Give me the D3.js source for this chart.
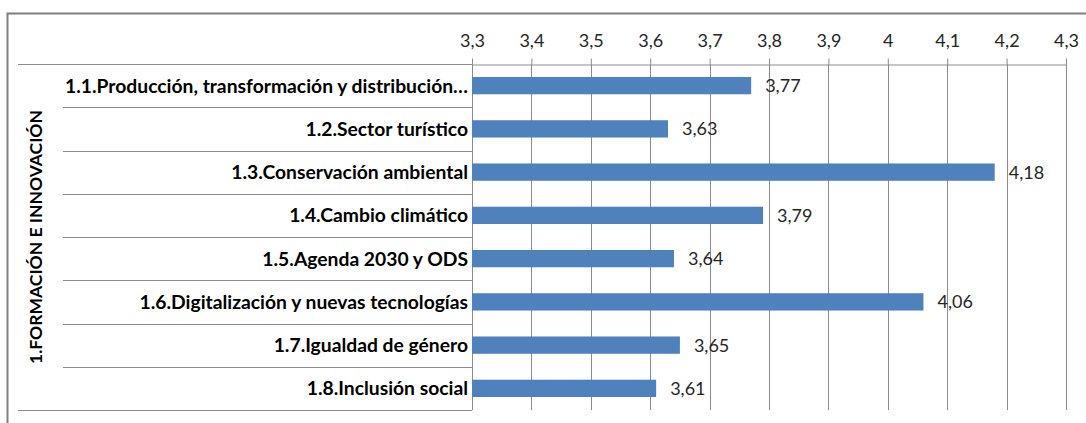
<!DOCTYPE html>
<html>
<head>
<meta charset="utf-8">
<script src="https://cdn.jsdelivr.net/npm/d3@7"></script>
<style>
    body { margin: 0; background: #fff; }
    svg { display: block; }
    .axis text { font-family: Lato, "Open Sans", sans-serif; font-size: 18px; fill: #262626; }
    .cat-label { font-family: Lato, "Open Sans", sans-serif; font-size: 19.3px; font-weight: bold; fill: #000; }
    .value-label { font-family: Lato, "Open Sans", sans-serif; font-size: 18px; fill: #262626; }
    .group-label { font-family: Lato, "Open Sans", sans-serif; font-size: 17.5px; font-weight: bold; fill: #000; }
</style>
</head>
<body>
<div id="chart"></div>
<script>
// Data
const groupName = '1.FORMACIÓN E INNOVACIÓN';
const categories = [
    '1.1.Producción, transformación y distribución…',
    '1.2.Sector turístico',
    '1.3.Conservación ambiental',
    '1.4.Cambio climático',
    '1.5.Agenda 2030 y ODS',
    '1.6.Digitalización y nuevas tecnologías',
    '1.7.Igualdad de género',
    '1.8.Inclusión social'
];
const values = [3.77, 3.63, 4.18, 3.79, 3.64, 4.06, 3.65, 3.61];
const valueLabels = ['3,77', '3,63', '4,18', '3,79', '3,64', '4,06', '3,65', '3,61'];
const tickValues = [3.3, 3.4, 3.5, 3.6, 3.7, 3.8, 3.9, 4.0, 4.1, 4.2, 4.3];
const tickLabels = ['3,3', '3,4', '3,5', '3,6', '3,7', '3,8', '3,9', '4', '4,1', '4,2', '4,3'];

class BarChart {

    constructor(_config) {
        this.config = {
            parentElement: _config.parentElement,
            containerWidth: _config.containerWidth || 1086,
            containerHeight: _config.containerHeight || 423,
            margin: _config.margin || {top: 64, right: 20, bottom: 13, left: 472}
        };
        this.initVis();
    }

    initVis() {
        let vis = this;

        vis.width = vis.config.containerWidth - vis.config.margin.left - vis.config.margin.right;
        vis.height = vis.config.containerHeight - vis.config.margin.top - vis.config.margin.bottom;

        vis.xScale = d3.scaleLinear()
            .domain([3.3, 4.3])
            .range([0, vis.width]);

        vis.yScale = d3.scaleBand()
            .domain(categories)
            .range([0, vis.height])
            .paddingInner(0.6)
            .paddingOuter(0.3);

        vis.svg = d3.select(vis.config.parentElement)
            .append('svg')
            .attr('width', vis.config.containerWidth)
            .attr('height', vis.config.containerHeight);

        // outer frame (only top and left edges are visible)
        vis.svg.append('path')
            .attr('d', `M7.5,${vis.config.containerHeight} V13.5 H${vis.config.containerWidth}`)
            .attr('fill', 'none')
            .attr('stroke', '#7f7f7f')
            .attr('stroke-width', 2);

        vis.chart = vis.svg.append('g')
            .attr('transform', `translate(${vis.config.margin.left},${vis.config.margin.top})`);
    }

    renderVis() {
        let vis = this;
        const step = vis.yScale.step();
        const left = vis.config.margin.left;

        // vertical gridlines
        vis.chart.append('g')
            .selectAll('line')
            .data(tickValues)
            .join('line')
            .attr('x1', d => Math.round(vis.xScale(d)) + 0.5)
            .attr('x2', d => Math.round(vis.xScale(d)) + 0.5)
            .attr('y1', 0)
            .attr('y2', vis.height)
            .attr('stroke', '#8c8c8c');

        // category separators in the label area
        const seps = d3.range(categories.length + 1);
        vis.chart.append('g')
            .selectAll('line')
            .data(seps)
            .join('line')
            .attr('x1', d => (d === 0 || d === categories.length) ? 18 - left : 63 - left)
            .attr('x2', 0)
            .attr('y1', d => Math.round(d * step) + 0.5)
            .attr('y2', d => Math.round(d * step) + 0.5)
            .attr('stroke', '#8c8c8c');

        // top axis
        vis.xAxis = d3.axisTop(vis.xScale)
            .tickValues(tickValues)
            .tickFormat((d, i) => tickLabels[i])
            .tickSize(6)
            .tickSizeOuter(0)
            .tickPadding(12);

        vis.chart.append('g')
            .attr('class', 'axis x-axis')
            .attr('transform', 'translate(0,0.5)')
            .call(vis.xAxis)
            .call(g => g.select('.domain').attr('stroke', '#8c8c8c'))
            .call(g => g.selectAll('.tick line').attr('stroke', '#8c8c8c'))
            .call(g => g.selectAll('.tick text').attr('font-family', null).attr('font-size', null));

        // bars
        vis.chart.append('g')
            .selectAll('rect')
            .data(values)
            .join('rect')
            .attr('x', 0)
            .attr('y', (d, i) => vis.yScale(categories[i]))
            .attr('width', d => vis.xScale(d))
            .attr('height', vis.yScale.bandwidth())
            .attr('fill', '#4f81bd');

        // value labels
        vis.chart.append('g')
            .selectAll('text')
            .data(values)
            .join('text')
            .attr('class', 'value-label')
            .attr('x', d => vis.xScale(d) + 14)
            .attr('y', (d, i) => vis.yScale(categories[i]) + vis.yScale.bandwidth() / 2)
            .attr('dy', '0.36em')
            .text((d, i) => valueLabels[i]);

        // category labels
        vis.chart.append('g')
            .selectAll('text')
            .data(categories)
            .join('text')
            .attr('class', 'cat-label')
            .attr('x', -4)
            .attr('y', d => vis.yScale(d) + vis.yScale.bandwidth() / 2)
            .attr('dy', '0.36em')
            .attr('text-anchor', 'end')
            .text(d => d);

        // group label, rotated
        vis.chart.append('text')
            .attr('class', 'group-label')
            .attr('transform', `translate(${36 - left},${vis.height / 2}) rotate(-90)`)
            .attr('dy', '0.36em')
            .attr('text-anchor', 'middle')
            .text(groupName);
    }
}

const chart = new BarChart({parentElement: '#chart'});
chart.renderVis();
</script>
</body>
</html>
